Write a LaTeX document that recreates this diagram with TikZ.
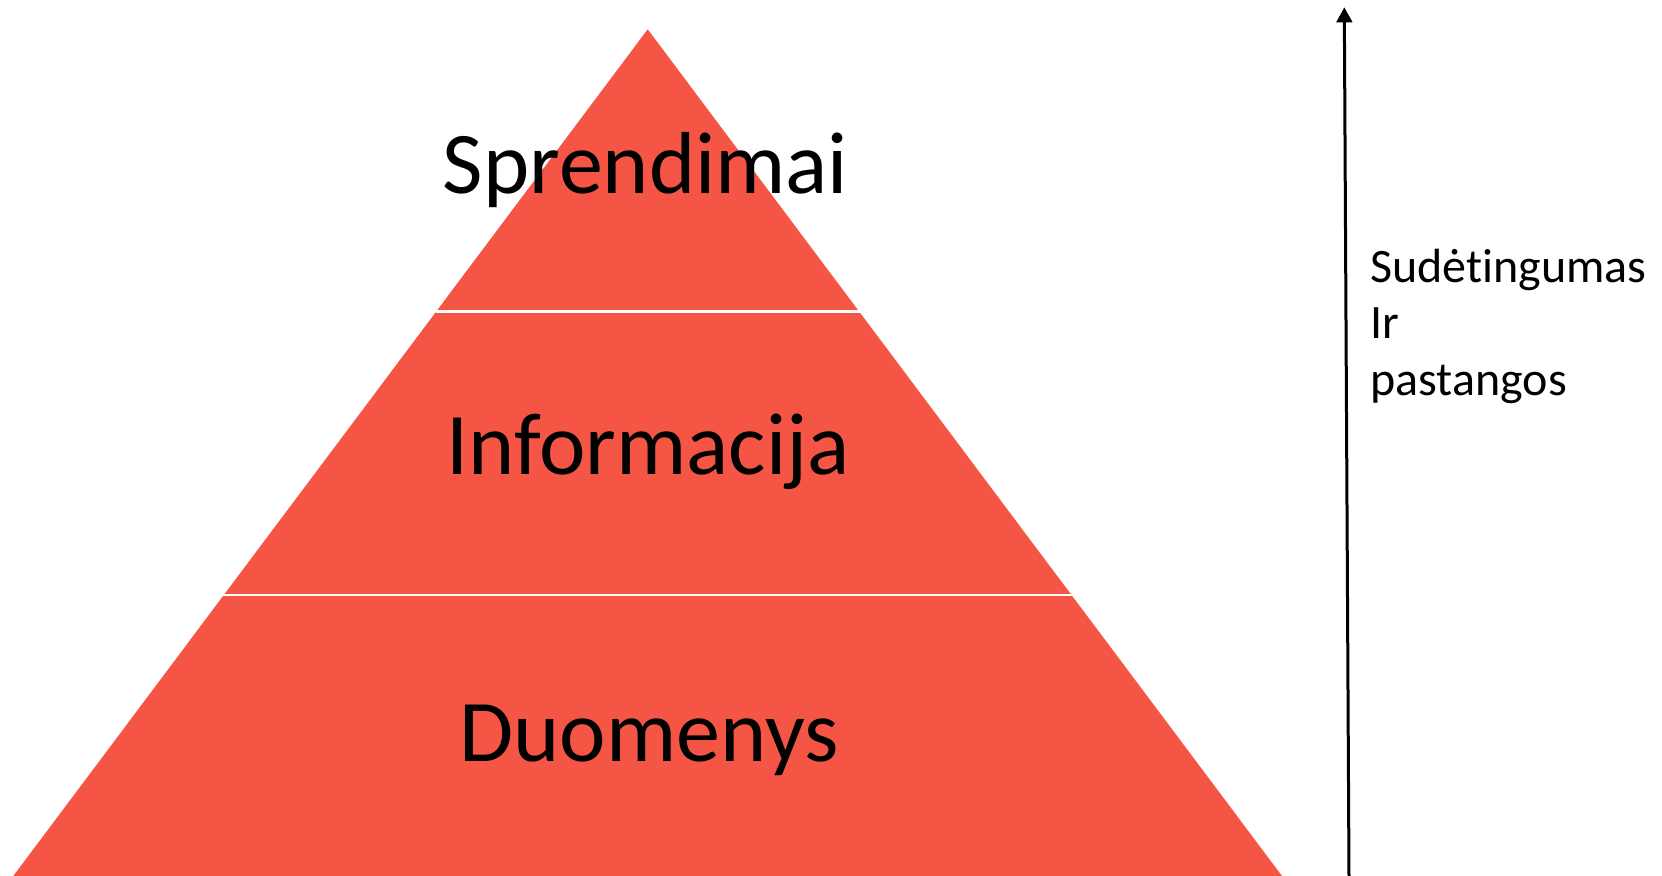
\documentclass[tikz,border=0pt]{standalone}
\usepackage{fontspec}
\setmainfont[Ligatures=CommonOff]{Carlito}
\usetikzlibrary{arrows.meta}
\definecolor{pyr}{RGB}{245,85,69}
\tikzset{
  tier/.style={font=\fontsize{44pt}{53pt}\selectfont, anchor=base, inner sep=0pt},
  side/.style={font=\fontsize{24pt}{29pt}\selectfont, anchor=base west, inner sep=0pt},
  sep/.style={draw=white, line width=1.35pt},
  axis/.style={draw=black, line width=1.5pt, -{Triangle[length=7.5pt,width=7.8pt]}}
}
\begin{document}
\begin{tikzpicture}[x=0.5pt,y=-0.5pt]
\useasboundingbox (0,0) rectangle (1662,876);
% pyramid
\coordinate (apex) at (647.7,29.3);
\coordinate (bl) at (13.3,876);
\coordinate (br) at (1282,876);
\fill[pyr] (apex) -- (bl) -- (br) -- cycle;
% separators
\coordinate (s1l) at (435.5,311.3);
\coordinate (s1r) at (859.9,311.3);
\coordinate (s2l) at (222.8,595);
\coordinate (s2r) at (1072.6,595);
\draw[sep] (s1l) -- (s1r);
\draw[sep] (s2l) -- (s2r);
% labels
\node[tier] (spr) at (645.5,193.3) {Sprendimai};
\node[tier] (inf) at (648,475) {Informacija};
\node[tier] (duo) at (649,761.7) {Duomenys};
% axis
\coordinate (a0) at (1349,876);
\coordinate (a1) at (1344.3,7.3);
\draw[axis] (a0) -- (a1);
\node[side] (t1) at (1370,282.3) {Sudėt\kern0pt ingumas};
\node[side] (t2) at (1370,338.8) {Ir};
\node[side] (t3) at (1370,395.3) {pastangos};
\end{tikzpicture}
\end{document}
